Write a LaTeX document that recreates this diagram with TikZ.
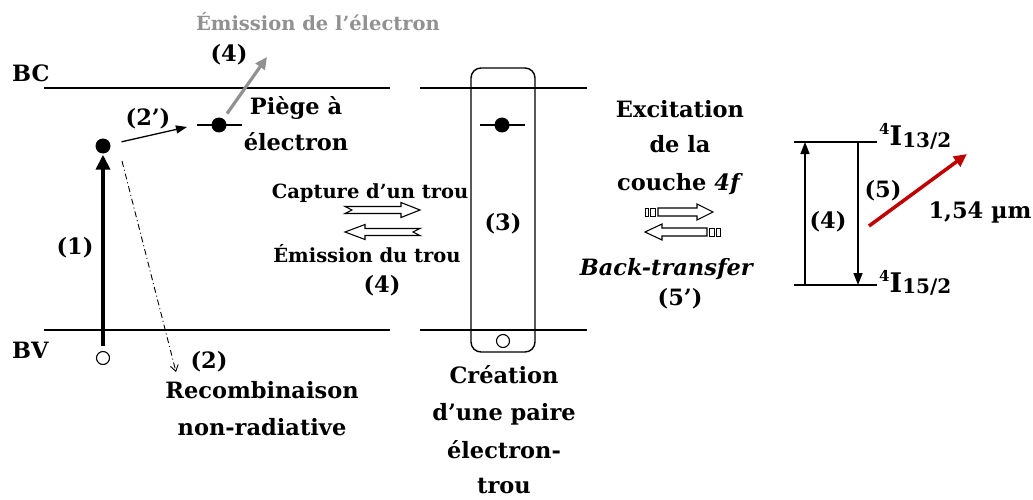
\documentclass[tikz,border=0pt]{standalone}
\usepackage{fontspec}
\setmainfont{DejaVu Serif}
\usetikzlibrary{arrows.meta}
\definecolor{grayarrow}{RGB}{145,145,145}
\definecolor{redarrow}{RGB}{192,0,0}
\begin{document}
\begin{tikzpicture}[x=1pt,y=-1pt,
  lbl/.style={font=\bfseries\fontsize{22.5}{26}\selectfont, inner sep=0pt, anchor=base},
  small/.style={font=\bfseries\fontsize{19.5}{23}\selectfont},
  band/.style={line width=1.8pt},
  dotn/.style={circle, fill=black, inner sep=0pt, minimum size=15pt},
  holen/.style={circle, draw, line width=1.1pt, inner sep=0pt, minimum size=13pt, fill=white},
  blockarrow/.style={draw, line width=1.1pt, fill=white, line join=miter},
  stripe/.style={draw, line width=0.8pt, fill=white},
  thinarrow/.style={line width=1.6pt, -{Triangle[length=12pt,width=9pt]}}
]
\useasboundingbox (0,0) rectangle (1033,500);

% ---- bands
\coordinate (bcL) at (44,88);  \coordinate (bcM) at (390,88);
\coordinate (bcN) at (420,88); \coordinate (bcR) at (587,88);
\coordinate (bvL) at (44,330); \coordinate (bvM) at (390,330);
\coordinate (bvN) at (420,330); \coordinate (bvR) at (587,330);
\draw[band] (bcL) -- (bcM);
\draw[band] (bcN) -- (bcR);
\draw[band] (bvL) -- (bvM);
\draw[band] (bvN) -- (bvR);
\node[lbl, anchor=base west] (BC) at (12,82) {BC};
\node[lbl, anchor=base west] (BV) at (12,358) {BV};

% ---- left part
\node[dotn] (e1) at (103,146) {};
\node[holen] (h1) at (103,358) {};
\draw[line width=4pt, -{Triangle[length=15pt,width=14pt]}, shorten <=5pt, shorten >=1pt] (h1.north) -- (e1.south);
\node[lbl] (n1) at (75,254) {(1)};

\coordinate (rStart) at (122,161);
\coordinate (rEnd) at (176,372);
\draw[line width=0.9pt, dash pattern=on 6pt off 3pt on 1pt off 3pt, -{Straight Barb[length=6pt,width=8pt]}] (rStart) -- (rEnd);
\node[lbl] (n2) at (209,368) {(2)};
\node[lbl] (rec1) at (262,398) {Recombinaison};
\node[lbl] (rec2) at (262,435) {non-radiative};

\coordinate (tr1) at (197,125); \coordinate (tr2) at (242,125);
\draw[line width=1.3pt] (tr1) -- (tr2);
\node[dotn] (e2) at (219,125) {};
\coordinate (t2p) at (187,127);
\draw[line width=1.3pt, -{Triangle[length=11pt,width=8pt]}, shorten <=19pt] (e1.center) -- (t2p);
\node[lbl] (n2p) at (148,125) {(2’)};

\coordinate (gTip) at (267,57);
\draw[line width=3.2pt, grayarrow, -{Triangle[length=12pt,width=11pt]}, shorten <=14pt] (e2.center) -- (gTip);
\node[lbl] (n4a) at (229,62) {(4)};
\node[lbl, small, text=grayarrow] (emi) at (318,31) {Émission de l’électron};
\node[lbl] (pie1) at (296,115) {Piège à};
\node[lbl] (pie2) at (296,150) {électron};

% ---- hole capture / emission arrows
\node[lbl, small] (cap) at (370,198) {Capture d’un trou};
\draw[blockarrow] (345,206.5) -- (401,206.5) -- (401,202.5) -- (420,210) -- (401,217.5) -- (401,213.5) -- (345,213.5) -- (352,210) -- cycle;
\draw[blockarrow] (420,228.5) -- (365,228.5) -- (365,224.5) -- (345,232) -- (365,239.5) -- (365,235.5) -- (420,235.5) -- (413,232) -- cycle;
\node[lbl, small] (emt) at (367,262) {Émission du trou};
\node[lbl] (n4b) at (382,292) {(4)};

% ---- centre box
\node[draw, rounded corners=10pt, line width=1.4pt, minimum width=64pt, minimum height=284pt, inner sep=0pt] (box) at (503,210) {};
\coordinate (tr3) at (480,125); \coordinate (tr4) at (525,125);
\draw[line width=1.3pt] (tr3) -- (tr4);
\node[dotn] (e3) at (502,125) {};
\node[holen] (h3) at (503,341) {};
\node[lbl] (n3) at (503,230) {(3)};
\node[lbl] (cr1) at (504,383) {Création};
\node[lbl] (cr2) at (504,420) {d’une paire};
\node[lbl] (cr3) at (504,458) {électron-};
\node[lbl] (cr4) at (504,493) {trou};

% ---- 4f excitation
\node[lbl] (ex1) at (680,118) {Excitation};
\node[lbl] (ex2) at (680,153) {de la};
\node[lbl] (ex3) at (680,190) {couche \textit{4f}};
% striped right arrow
\draw[stripe] (645,208) rectangle (648.5,216);
\draw[stripe] (650.5,208) rectangle (655.5,216);
\draw[blockarrow] (658,208) -- (697,208) -- (697,204) -- (713,212) -- (697,220) -- (697,216) -- (658,216) -- cycle;
% striped left arrow
\draw[blockarrow] (707,228) -- (662,228) -- (662,224) -- (645,232) -- (662,240) -- (662,236) -- (707,236) -- cycle;
\draw[stripe] (709.5,228) rectangle (714.5,236);
\draw[stripe] (716.5,228) rectangle (720,236);
\node[lbl] (bt) at (667,275) {\textit{Back-transfer}};
\node[lbl] (n5p) at (680,305) {(5’)};

% ---- Er levels
\coordinate (u1) at (794,142); \coordinate (u2) at (877,142);
\coordinate (l1) at (794,285); \coordinate (l2) at (877,285);
\draw[line width=1.5pt] (u1) -- (u2);
\draw[line width=1.5pt] (l1) -- (l2);
\coordinate (a4b) at (805,285); \coordinate (a4t) at (805,142);
\coordinate (a5t) at (858,142); \coordinate (a5b) at (858,285);
\draw[thinarrow] (a4b) -- (a4t);
\draw[thinarrow] (a5t) -- (a5b);
\node[lbl] (n4c) at (828,228) {(4)};
\node[lbl] (n5) at (883,197) {(5)};
\coordinate (rs) at (869,226); \coordinate (re) at (967,154);
\draw[line width=3.5pt, redarrow, -{Triangle[length=13pt,width=12pt]}] (rs) -- (re);
\node[lbl] (wl) at (980,218) {1,54 µm};
\node[lbl, anchor=base west] (lvA) at (879,146) {\fontsize{15}{15}\selectfont\raisebox{11pt}{4}\fontsize{27}{27}\selectfont I\fontsize{20}{20}\selectfont\raisebox{-1.5pt}{13/2}};
\node[lbl, anchor=base west] (lvB) at (879,292) {\fontsize{15}{15}\selectfont\raisebox{11pt}{4}\fontsize{27}{27}\selectfont I\fontsize{20}{20}\selectfont\raisebox{-1.5pt}{15/2}};
\end{tikzpicture}
\end{document}
